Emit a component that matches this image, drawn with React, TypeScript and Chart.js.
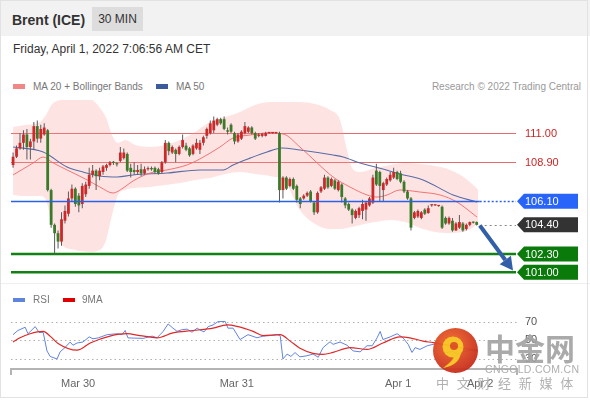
import React, { useEffect, useRef } from "react";
import { Chart, registerables } from "chart.js";

Chart.register(...registerables);

const FONT = "'Liberation Sans', Arial, Helvetica, sans-serif";

// ---------- candles (30 min) ----------
const opens = [
  108.7, 109.3, 109.9, 110.3, 110.9, 110.0, 110.4, 111.5, 110.6, 110.9,
  111.2, 106.9, 104.4, 103.8, 103.2, 104.7, 105.2, 106.3, 107.0, 106.5,
  105.9, 106.6, 107.2, 108.0, 108.3, 107.9, 108.2, 108.5, 108.7, 108.9,
  108.8, 109.0, 109.2, 109.5, 108.5, 108.35, 108.2, 108.4, 108.1, 108.4,
  108.45, 108.5, 108.4, 108.2, 108.9, 110.3, 109.6, 109.8, 109.5, 110.0,
  110.1, 109.9, 109.5, 109.9, 109.8, 110.3, 110.8, 111.0, 111.2, 111.6,
  112.0, 112.0, 111.2, 111.6, 111.0, 110.4, 110.6, 111.0, 111.1, 111.4,
  111.0, 110.8, 110.8, 110.8, 111.0, 111.0, 111.0, 111.0, 106.9, 107.8,
  107.2, 107.7, 107.2, 106.3, 106.3, 106.5, 106.8, 106.0, 105.3, 106.8,
  107.0, 107.8, 107.2, 107.6, 106.9, 107.3, 106.3, 105.9, 105.5, 104.9,
  105.1, 105.4, 105.5, 105.8, 106.0, 108.3, 108.2, 106.9, 107.3, 107.6,
  107.8, 108.2, 108.1, 107.5, 106.8, 106.3, 104.9, 105.0, 104.9, 105.5,
  105.25, 105.8, 105.8, 105.75, 105.7, 104.9, 104.5, 104.7, 104.0, 104.2,
  104.5, 104.1, 104.4, 104.6, 104.6,
];
const highs = [
  109.6, 110.1, 111.0, 111.2, 111.3, 110.6, 111.8, 111.9, 111.6, 111.7,
  111.3, 107.0, 104.5, 104.0, 105.3, 105.8, 106.8, 107.3, 107.1, 106.7,
  107.4, 107.5, 108.5, 108.7, 108.4, 108.5, 108.7, 108.8, 109.0, 109.0,
  108.9, 110.0, 109.9, 109.6, 108.8, 108.9, 108.7, 108.8, 108.6, 108.6,
  108.6, 108.6, 108.5, 109.0, 110.5, 110.4, 110.1, 109.9, 110.1, 110.9,
  110.3, 110.0, 110.2, 110.6, 110.5, 110.8, 111.4, 111.9, 112.2, 112.1,
  112.1, 112.2, 111.4, 111.7, 111.1, 111.0, 111.2, 111.8, 111.5, 111.5,
  111.1, 111.0, 111.0, 111.1, 111.05, 111.05, 111.05, 111.1, 107.9, 107.9,
  107.8, 107.8, 107.3, 106.4, 106.6, 106.8, 106.9, 106.1, 106.8, 107.2,
  108.0, 107.9, 107.8, 107.7, 107.6, 107.4, 106.4, 106.0, 105.6, 105.5,
  105.7, 106.2, 106.1, 106.4, 108.0, 108.8, 108.3, 107.5, 107.8, 108.2,
  108.5, 108.3, 108.3, 107.6, 106.9, 106.4, 105.4, 105.5, 105.4, 105.6,
  105.8, 105.9, 105.85, 105.8, 105.8, 105.0, 105.0, 104.9, 104.6, 105.1,
  104.6, 104.5, 104.65, 104.65, 104.65,
];
const lows = [
  108.5, 109.2, 109.8, 109.8, 109.1, 109.1, 109.8, 110.3, 110.3, 110.8,
  106.8, 104.2, 102.3, 102.7, 102.9, 104.5, 105.0, 106.1, 105.7, 105.3,
  105.6, 106.4, 107.0, 107.8, 106.9, 107.6, 108.0, 108.3, 108.6, 108.7,
  108.6, 108.9, 109.1, 108.2, 107.8, 108.0, 108.0, 107.9, 108.0, 108.3,
  108.3, 108.1, 108.0, 108.1, 108.8, 109.4, 109.5, 108.9, 109.4, 109.9,
  109.7, 109.3, 109.4, 109.8, 109.5, 110.1, 110.6, 110.9, 111.0, 111.5,
  111.6, 111.2, 110.9, 111.0, 110.2, 110.3, 110.5, 110.9, 111.0, 110.9,
  110.5, 110.7, 110.7, 110.75, 110.95, 110.95, 110.95, 106.0, 106.3, 106.9,
  107.1, 106.9, 106.0, 105.6, 106.2, 106.4, 106.0, 105.1, 105.2, 106.7,
  106.9, 107.0, 107.1, 106.9, 106.8, 106.0, 105.6, 105.4, 104.5, 104.8,
  104.9, 104.8, 104.7, 105.7, 105.9, 107.2, 106.1, 106.1, 107.2, 107.5,
  107.7, 107.6, 107.4, 106.7, 106.2, 104.0, 104.8, 104.9, 104.8, 105.1,
  105.2, 105.7, 105.75, 105.7, 104.1, 104.4, 104.4, 103.9, 103.95, 104.1,
  103.9, 104.0, 104.3, 104.5, 104.35,
];
const closes = [
  109.3, 109.9, 110.3, 110.9, 110.0, 110.4, 111.5, 110.6, 111.3, 111.4,
  106.9, 104.4, 103.8, 103.2, 104.8, 105.4, 106.3, 107.0, 105.9, 105.8,
  107.2, 107.3, 108.0, 108.3, 107.9, 108.3, 108.6, 108.7, 108.9, 108.85,
  108.75, 109.6, 109.6, 108.3, 108.2, 108.2, 108.35, 108.1, 108.4, 108.45,
  108.4, 108.2, 108.1, 108.9, 110.3, 109.7, 110.0, 109.5, 110.0, 110.5,
  109.8, 109.4, 110.1, 110.3, 110.3, 110.7, 111.3, 111.7, 111.9, 112.0,
  111.7, 111.3, 111.1, 111.1, 110.4, 110.9, 111.1, 111.5, 111.4, 111.0,
  110.6, 110.9, 110.95, 111.0, 111.0, 111.0, 111.0, 106.9, 107.8, 107.0,
  107.7, 107.0, 106.2, 105.9, 106.5, 106.7, 106.1, 105.3, 106.7, 107.1,
  107.8, 107.1, 107.7, 107.0, 107.5, 106.4, 105.8, 105.5, 105.1, 105.4,
  105.6, 105.9, 106.0, 106.3, 107.8, 107.3, 107.2, 107.4, 107.7, 108.0,
  108.2, 107.7, 107.5, 106.8, 106.3, 104.2, 105.3, 105.4, 105.3, 105.2,
  105.6, 105.8, 105.8, 105.75, 104.2, 104.5, 104.9, 104.0, 104.5, 104.6,
  104.0, 104.4, 104.6, 104.55, 104.4,
];

// ---------- moving averages & Bollinger (sampled along candle index) ----------
const ma20Idx = [0, 5.8, 8.7, 11.6, 15.6, 21.4, 25.1, 28.9, 31.8, 34.7, 39.6, 44.5, 50.3, 54.0, 59.8, 63.6, 68.5, 73.4, 78.0, 82.9, 87.9, 92.5, 97.4, 102.3, 105.2, 108.1, 111.8, 117.6, 123.4, 128.3, 134.1];
const ma20Val = [107.99, 108.85, 109.28, 108.85, 108.35, 107.63, 107.12, 106.69, 107.05, 107.56, 108.13, 108.35, 108.71, 109.14, 110.0, 110.65, 110.86, 111.01, 110.94, 110.0, 108.85, 107.84, 107.12, 106.55, 106.4, 106.55, 106.91, 106.76, 106.55, 106.04, 104.96];

const ma50Idx = [0, 8.7, 15.6, 20.2, 25.1, 30.1, 34.7, 44.5, 54.0, 60.7, 63.6, 68.5, 73.4, 77.7, 82.9, 92.5, 95.4, 100.3, 106.9, 111.8, 118.5, 127.2, 134.1];
const ma50Val = [110.0, 109.64, 108.56, 108.2, 107.91, 107.84, 107.99, 108.13, 108.35, 108.35, 108.71, 109.2, 109.64, 109.93, 109.78, 109.42, 109.28, 108.85, 108.42, 108.06, 107.63, 106.55, 106.04];

const bbIdx = [0, 3.5, 7.8, 9.5, 11.3, 13.6, 17.9, 22.3, 25.1, 26.9, 28.6, 30.3, 32.4, 35.3, 39.6, 43.9, 48.3, 52.6, 56.9, 61.3, 65.6, 69.9, 74.3, 78.6, 82.9, 87.3, 91.6, 94.5, 96.5, 98.0, 100.3, 104.6, 109.0, 113.3, 117.6, 122.0, 126.3, 129.8, 132.7, 134.4];
const bbUpper = [111.44, 111.58, 111.8, 112.3, 113.09, 113.38, 113.53, 113.45, 112.81, 112.09, 110.86, 110.29, 110.5, 110.14, 110.0, 110.14, 110.5, 111.08, 111.8, 112.16, 112.52, 113.02, 113.24, 113.24, 113.24, 113.09, 112.66, 111.94, 109.78, 108.49, 108.2, 108.49, 108.71, 108.85, 108.78, 108.63, 108.35, 107.91, 107.34, 106.91];
const bbLower = [106.55, 106.47, 106.47, 106.19, 104.39, 103.09, 102.59, 102.45, 102.59, 103.31, 105.11, 106.55, 106.91, 107.05, 107.12, 107.27, 107.41, 107.63, 107.77, 108.06, 108.2, 108.06, 107.91, 107.48, 105.47, 104.46, 104.1, 104.1, 104.17, 104.24, 104.39, 104.6, 104.75, 104.6, 104.17, 103.88, 103.81, 103.88, 104.17, 104.6];

// ---------- key levels ----------
const resistances = [111.0, 108.9];
const pivot = 106.1;
const lastPrice = 104.4;
const supports = [102.3, 101.0];
const arrowFrom = [134.9, 104.35];
const arrowTo = [144.5, 101.12];

// ---------- RSI ----------
const rsiIdx = [0, 1.4, 3.5, 4.3, 6.4, 7.5, 8.7, 9.8, 10.7, 12.7, 13.6, 15.0, 16.5, 17.3, 18.5, 20.2, 22.0, 23.1, 24.6, 27.2, 30.1, 31.5, 32.4, 33.2, 34.7, 37.6, 40.2, 41.6, 42.5, 43.4, 44.8, 46.2, 47.4, 48.8, 50.3, 51.7, 53.2, 54.0, 55.2, 56.4, 57.8, 59.2, 61.3, 62.1, 63.6, 65.6, 67.9, 70.5, 72.3, 74.3, 76.3, 77.2, 78.0, 79.2, 80.3, 81.5, 82.9, 84.7, 86.7, 88.2, 89.6, 91.6, 92.5, 94.5, 96.5, 98.3, 100.3, 102.3, 103.8, 105.2, 106.1, 106.9, 109.0, 111.0, 112.7, 114.2, 115.3, 116.2, 117.6, 119.7, 121.4, 123.4, 124.9, 126.9, 128.6, 130.3, 132.1, 134.1];
const rsiVal = [56, 60.5, 64, 57, 64.7, 58.4, 58.5, 38.4, 32.5, 29.7, 37.4, 42, 48, 44.6, 47, 48, 53.6, 51.5, 52.5, 56, 57, 56, 60.5, 52.5, 52.3, 52, 54.4, 52.6, 56, 59.6, 67.6, 63, 59.6, 61.3, 62, 58.6, 63, 61, 59, 64.7, 66.5, 70, 70.3, 63, 63, 50.7, 56, 52.6, 54.4, 55, 56, 55, 29.7, 35, 32.5, 36.6, 32, 33, 35, 31.5, 42, 48.3, 45.5, 48, 44.6, 38.4, 37.4, 44, 44, 52.5, 59.5, 50.7, 53.6, 57, 52.6, 45.5, 36.7, 42, 40, 44, 45.5, 46, 36, 38, 35, 38, 39, 38];
const rsiMaIdx = [0, 2.0, 4.9, 8.7, 10.7, 13.0, 18.5, 22.3, 28.0, 32.9, 36.7, 41.6, 46.2, 52.0, 57.8, 61.8, 64.7, 69.4, 72.3, 77.2, 80.1, 82.9, 86.7, 89.6, 92.5, 97.4, 102.3, 106.9, 111.8, 114.7, 118.5, 121.4, 126.3, 130.6, 134.1];
const rsiMaVal = [48, 52.6, 57, 59.5, 54.4, 46.5, 39.2, 47, 54.4, 57, 55, 52.6, 57.9, 60.5, 63, 66.5, 65, 59.6, 55, 56, 49, 41.3, 35.8, 34.7, 36.8, 42, 40, 47, 53.6, 52.6, 49, 47.4, 44, 41, 39];
const rsiLevels = [70, 50, 30];

// ---------- time axis ----------
const dayLabels = ["Mar 30", "Mar 31", "Apr 1", "Apr 2"];
const dayLabelIdx = [18.8, 64.65, 111.3, 135.0];

const X_MIN = -0.6;
const X_MAX = 145.07;

const pts = (xs: number[], ys: number[]) => xs.map((x, i) => ({ x, y: ys[i] }));

function drawTag(ctx: CanvasRenderingContext2D, yc: number, bg: string, text: string) {
  const x0 = 517, x1 = 578, h = 15;
  ctx.beginPath();
  ctx.moveTo(x0, yc);
  ctx.lineTo(x0 + 7, yc - h / 2);
  ctx.lineTo(x1, yc - h / 2);
  ctx.lineTo(x1, yc + h / 2);
  ctx.lineTo(x0 + 7, yc + h / 2);
  ctx.closePath();
  ctx.fillStyle = bg;
  ctx.fill();
  ctx.fillStyle = "#ffffff";
  ctx.font = `11px ${FONT}`;
  ctx.textAlign = "left";
  ctx.textBaseline = "middle";
  ctx.fillText(text, 525, yc + 0.5);
}

const levelsPlugin = {
  id: "levels",
  beforeDatasetsDraw(chart: any) {
    const { ctx, chartArea: ca, scales } = chart;
    const xs = scales.x, ys = scales.y;
    const lastX = xs.getPixelForValue(closes.length - 1) + 2;
    const py = (v: number) => Math.round(ys.getPixelForValue(v)) + 0.5;
    ctx.save();
    ctx.lineWidth = 1;
    ctx.strokeStyle = "rgba(222,70,70,0.8)";
    resistances.forEach((v) => {
      ctx.beginPath();
      ctx.moveTo(ca.left, py(v));
      ctx.lineTo(ca.right + 1, py(v));
      ctx.stroke();
    });
    ctx.restore();
    ctx.save();
    ctx.strokeStyle = "rgb(18,128,18)";
    ctx.lineWidth = 2.5;
    supports.forEach((v) => {
      const yy = ys.getPixelForValue(v);
      ctx.beginPath();
      ctx.moveTo(ca.left, yy);
      ctx.lineTo(ca.right + 1, yy);
      ctx.stroke();
    });
    ctx.restore();
  },
  afterDatasetsDraw(chart: any) {
    const { ctx, chartArea: ca, scales } = chart;
    const xs = scales.x, ys = scales.y;
    const lastX = xs.getPixelForValue(closes.length - 1) + 3;
    ctx.save();
    // pivot line (solid up to the last candle, dotted after)
    const pyv = Math.round(ys.getPixelForValue(pivot)) + 0.5;
    ctx.strokeStyle = "#2a62e6";
    ctx.lineWidth = 1.4;
    ctx.beginPath();
    ctx.moveTo(ca.left, pyv);
    ctx.lineTo(lastX, pyv);
    ctx.stroke();
    ctx.setLineDash([2, 2]);
    ctx.beginPath();
    ctx.moveTo(lastX, pyv);
    ctx.lineTo(ca.right + 1, pyv);
    ctx.stroke();
    // last price dotted
    ctx.strokeStyle = "#888";
    ctx.lineWidth = 1;
    ctx.setLineDash([2, 3]);
    const ly = Math.round(ys.getPixelForValue(lastPrice)) + 0.5;
    ctx.beginPath();
    ctx.moveTo(lastX, ly);
    ctx.lineTo(ca.right + 1, ly);
    ctx.stroke();
    ctx.setLineDash([]);
    // arrow
    const sx = xs.getPixelForValue(arrowFrom[0]);
    const sy = ys.getPixelForValue(arrowFrom[1]);
    const ex = xs.getPixelForValue(arrowTo[0]);
    const ey = ys.getPixelForValue(arrowTo[1]);
    const ang = Math.atan2(ey - sy, ex - sx);
    const headLen = 13, headW = 7;
    const bx = ex - headLen * Math.cos(ang);
    const by = ey - headLen * Math.sin(ang);
    ctx.strokeStyle = "rgb(50,96,168)";
    ctx.fillStyle = "rgb(50,96,168)";
    ctx.lineWidth = 4;
    ctx.beginPath();
    ctx.moveTo(sx, sy);
    ctx.lineTo(bx, by);
    ctx.stroke();
    ctx.beginPath();
    ctx.moveTo(ex, ey);
    ctx.lineTo(bx + headW * Math.sin(ang), by - headW * Math.cos(ang));
    ctx.lineTo(bx - headW * Math.sin(ang), by + headW * Math.cos(ang));
    ctx.closePath();
    ctx.fill();
    ctx.restore();
  },
  afterDraw(chart: any) {
    const { ctx, scales } = chart;
    const ys = scales.y;
    ctx.save();
    ctx.font = `11px ${FONT}`;
    ctx.fillStyle = "rgb(208,36,36)";
    ctx.textAlign = "left";
    ctx.textBaseline = "middle";
    resistances.forEach((v) => ctx.fillText(v.toFixed(2), 525, ys.getPixelForValue(v) + 0.5));
    drawTag(ctx, ys.getPixelForValue(pivot), "rgb(41,100,250)", pivot.toFixed(2));
    drawTag(ctx, ys.getPixelForValue(lastPrice), "#333333", lastPrice.toFixed(2));
    supports.forEach((v) => drawTag(ctx, ys.getPixelForValue(v), "rgb(10,122,10)", v.toFixed(2)));
    ctx.restore();
  },
};

const rsiPlugin = {
  id: "rsiDeco",
  beforeDatasetsDraw(chart: any) {
    const { ctx, chartArea: ca, scales } = chart;
    ctx.save();
    ctx.strokeStyle = "#b0b0b0";
    ctx.lineWidth = 1;
    ctx.setLineDash([1.5, 3]);
    rsiLevels.forEach((v) => {
      const y = Math.round(scales.y.getPixelForValue(v)) + 0.5;
      ctx.beginPath();
      ctx.moveTo(ca.left, y);
      ctx.lineTo(ca.right + 2, y);
      ctx.stroke();
    });
    ctx.restore();
  },
  afterDraw(chart: any) {
    const { ctx, chartArea: ca, scales } = chart;
    ctx.save();
    ctx.font = `11px ${FONT}`;
    ctx.fillStyle = "#555";
    ctx.textAlign = "left";
    ctx.textBaseline = "middle";
    rsiLevels.forEach((v) => ctx.fillText(String(v), 525, scales.y.getPixelForValue(v)));
    ctx.strokeStyle = "#b4b4b4";
    ctx.lineWidth = 2;
    ctx.beginPath();
    ctx.moveTo(ca.left, ca.bottom + 6);
    ctx.lineTo(ca.left, ca.bottom);
    ctx.lineTo(ca.right + 2, ca.bottom);
    ctx.lineTo(ca.right + 2, ca.bottom + 6);
    ctx.stroke();
    ctx.fillStyle = "#666";
    ctx.textAlign = "center";
    ctx.textBaseline = "alphabetic";
    dayLabels.forEach((t, i) => ctx.fillText(t, scales.x.getPixelForValue(dayLabelIdx[i]), ca.bottom + 17.5));
    ctx.restore();
  },
};

export default function App() {
  const mainRef = useRef<HTMLCanvasElement>(null);
  const rsiRef = useRef<HTMLCanvasElement>(null);

  useEffect(() => {
    const wickData = highs.map((h, i) => ({ x: i, y: [lows[i], h] }));
    const bodyData = opens.map((o, i) => ({ x: i, y: [o, closes[i]] }));
    const bodyColors = opens.map((o, i) => (closes[i] >= o ? "#cc2a2a" : "#3a7a28"));

    const main = new Chart(mainRef.current as HTMLCanvasElement, {
      type: "bar",
      data: {
        datasets: [
          {
            type: "bar",
            data: bodyData as any,
            backgroundColor: bodyColors,
            barThickness: 2.8,
            grouped: false,
            minBarLength: 1.2,
            inflateAmount: 0,
            order: 0,
          } as any,
          {
            type: "bar",
            data: wickData as any,
            backgroundColor: "#5a5a5a",
            barThickness: 1,
            grouped: false,
            inflateAmount: 0,
            order: 1,
          } as any,
          {
            type: "line",
            data: pts(ma20Idx, ma20Val),
            borderColor: "rgba(238,105,105,0.9)",
            borderWidth: 1,
            pointRadius: 0,
            cubicInterpolationMode: "monotone",
            fill: false,
            order: 2,
          } as any,
          {
            type: "line",
            data: pts(ma50Idx, ma50Val),
            borderColor: "rgb(88,108,165)",
            borderWidth: 1.1,
            pointRadius: 0,
            cubicInterpolationMode: "monotone",
            fill: false,
            order: 3,
          } as any,
          {
            type: "line",
            data: pts(bbIdx, bbUpper),
            borderWidth: 0,
            borderColor: "rgba(0,0,0,0)",
            pointRadius: 0,
            cubicInterpolationMode: "monotone",
            fill: false,
            order: 5,
          } as any,
          {
            type: "line",
            data: pts(bbIdx, bbLower),
            borderWidth: 0,
            borderColor: "rgba(0,0,0,0)",
            backgroundColor: "rgba(250,150,150,0.27)",
            pointRadius: 0,
            cubicInterpolationMode: "monotone",
            fill: "-1",
            order: 4,
          } as any,
        ],
      },
      options: {
        animation: false,
        responsive: false,
        devicePixelRatio: 1,
        events: [],
        layout: { padding: { left: 11, right: 75, top: 5, bottom: 3 } },
        plugins: { legend: { display: false }, tooltip: { enabled: false } },
        scales: {
          x: { type: "linear", min: X_MIN, max: X_MAX, display: false, offset: false } as any,
          y: { type: "linear", min: 100.29, max: 113.38, display: false },
        },
      },
      plugins: [levelsPlugin],
    });

    const rsi = new Chart(rsiRef.current as HTMLCanvasElement, {
      type: "line",
      data: {
        datasets: [
          {
            data: pts(rsiMaIdx, rsiMaVal),
            borderColor: "rgb(222,40,40)",
            borderWidth: 1.2,
            pointRadius: 0,
            cubicInterpolationMode: "monotone",
            fill: false,
          },
          {
            data: pts(rsiIdx, rsiVal),
            borderColor: "rgb(96,132,222)",
            borderWidth: 1,
            pointRadius: 0,
            tension: 0,
            fill: false,
          },
        ],
      },
      options: {
        animation: false,
        responsive: false,
        devicePixelRatio: 1,
        events: [],
        layout: { padding: { left: 11, right: 75, top: 5, bottom: 31 } },
        plugins: { legend: { display: false }, tooltip: { enabled: false } },
        scales: {
          x: { type: "linear", min: X_MIN, max: X_MAX, display: false },
          y: { type: "linear", min: 18.86, max: 88.05, display: false },
        },
      },
      plugins: [rsiPlugin],
    });

    return () => {
      main.destroy();
      rsi.destroy();
    };
  }, []);

  const abs = (s: React.CSSProperties): React.CSSProperties => ({ position: "absolute", ...s });

  return (
    <div style={abs({ left: 0, top: 0, width: 590, height: 400, background: "#fff", fontFamily: FONT, overflow: "hidden" })}>
      <div style={abs({ left: 0, top: 0, width: 590, height: 36, background: "#f2f2f2" })} />
      <div style={abs({ left: 12, top: 12, fontSize: 14, fontWeight: "bold", lineHeight: "16px", color: "#333", whiteSpace: "nowrap" })}>
        Brent (ICE)
      </div>
      <div style={abs({ left: 92, top: 7, width: 51, height: 24, background: "#dddddd", color: "#333", fontSize: 12, display: "flex", alignItems: "center", justifyContent: "center", whiteSpace: "nowrap" })}>
        30 MIN
      </div>
      <div style={abs({ left: 13, top: 42, fontSize: 12, lineHeight: "14px", color: "#333", whiteSpace: "nowrap" })}>
        Friday, April 1, 2022 7:06:56 AM CET
      </div>

      {/* main legend */}
      <div style={abs({ left: 13, top: 84, width: 12, height: 5, background: "#f08888" })} />
      <div style={abs({ left: 33, top: 80.5, fontSize: 10, lineHeight: "12px", color: "#777", whiteSpace: "nowrap" })}>MA 20 + Bollinger Bands</div>
      <div style={abs({ left: 156, top: 84, width: 12, height: 5, background: "#3b5b9b" })} />
      <div style={abs({ left: 176, top: 80.5, fontSize: 10, lineHeight: "12px", color: "#777", whiteSpace: "nowrap" })}>MA 50</div>
      <div style={abs({ right: 9, top: 80.5, fontSize: 10, lineHeight: "12px", color: "#999", whiteSpace: "nowrap" })}>Research © 2022 Trading Central</div>

      <canvas ref={mainRef} width={590} height={190} style={abs({ left: 0, top: 95, display: "block" })} />

      <div style={abs({ left: 0, top: 283, width: 590, height: 1, background: "#efefef" })} />

      {/* RSI legend */}
      <div style={abs({ left: 13, top: 298, width: 12, height: 4, background: "#5f84de" })} />
      <div style={abs({ left: 33, top: 294, fontSize: 10, lineHeight: "12px", color: "#777", whiteSpace: "nowrap" })}>RSI</div>
      <div style={abs({ left: 63, top: 298, width: 12, height: 4, background: "#e00000" })} />
      <div style={abs({ left: 82, top: 294, fontSize: 10, lineHeight: "12px", color: "#777", whiteSpace: "nowrap" })}>9MA</div>

      <canvas ref={rsiRef} width={590} height={100} style={abs({ left: 0, top: 300, display: "block" })} />

      {/* watermark */}
      <svg style={abs({ left: 430, top: 325, opacity: 0.95 })} width={52} height={52}>
        <defs>
          <radialGradient id="wmg" cx="40%" cy="35%" r="70%">
            <stop offset="0%" stopColor="#f26b2b" />
            <stop offset="100%" stopColor="#c52a1c" />
          </radialGradient>
        </defs>
        <circle cx={25.5} cy={25.5} r={22.5} fill="url(#wmg)" />
        <circle cx={23} cy={22} r={10.5} fill="#f7c21e" />
        <circle cx={24} cy={21} r={4} fill="#dc4d1f" />
        <path d="M 31 25 Q 31 40 13 43 Q 24 35 24 31 Z" fill="#f7c21e" />
      </svg>
      <div style={abs({ left: 485, top: 332, fontSize: 30, lineHeight: "30px", fontWeight: "bold", color: "#a3a3a3", fontFamily: "'Noto Sans CJK SC', sans-serif", whiteSpace: "nowrap", opacity: 0.92 })}>
        中金网
      </div>
      <div style={abs({ left: 485, top: 363, fontSize: 10.5, lineHeight: "12px", color: "#a8a8a8", letterSpacing: "0.3px", whiteSpace: "nowrap", opacity: 0.92 })}>
        CNGOLD.COM.CN
      </div>
      <div style={abs({ left: 436, top: 375, fontSize: 13, lineHeight: "16px", color: "#aaaaaa", letterSpacing: "7.7px", fontFamily: "'Noto Sans CJK SC', sans-serif", whiteSpace: "nowrap", opacity: 0.92 })}>
        中文财经新媒体
      </div>

      <div style={abs({ left: 0, top: 0, width: 588, height: 398, boxSizing: "border-box", border: "1px solid #e2e2e2", pointerEvents: "none" })} />
    </div>
  );
}
